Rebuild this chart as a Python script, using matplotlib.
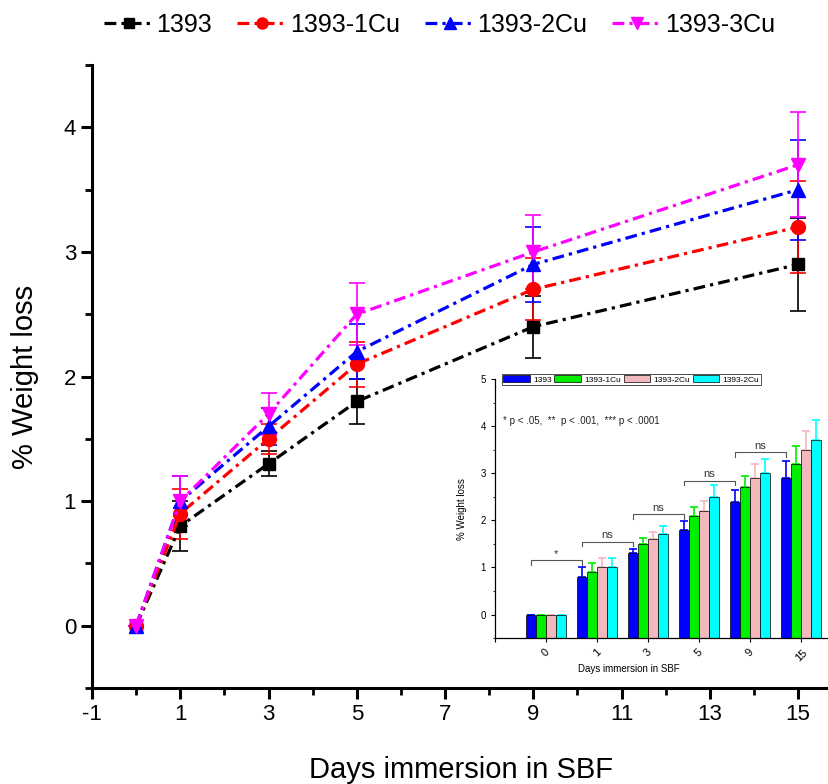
import matplotlib
matplotlib.use("Agg")
import matplotlib.pyplot as plt
from matplotlib.ticker import MultipleLocator
import numpy as np

plt.rcParams['font.family'] = ['Liberation Sans', 'DejaVu Sans']

# ---- data ----
days = [0, 1, 3, 5, 9, 15]
day_labels = ["0", "1", "3", "5", "9", "15"]
series_names = ["1393", "1393-1Cu", "1393-2Cu", "1393-3Cu"]
inset_names = ["1393", "1393-1Cu", "1393-2Cu", "1393-2Cu"]
w_1393 = [0, 0.8, 1.3, 1.8, 2.4, 2.9]
w_1cu = [0, 0.9, 1.5, 2.1, 2.7, 3.2]
w_2cu = [0, 1.0, 1.6, 2.2, 2.9, 3.5]
w_3cu = [0, 1.0, 1.7, 2.5, 3.0, 3.7]
e_1393 = [0, 0.2, 0.1, 0.18, 0.25, 0.37]
e_1cu = [0, 0.2, 0.12, 0.18, 0.25, 0.37]
e_2cu = [0, 0.2, 0.15, 0.22, 0.3, 0.4]
e_3cu = [0, 0.2, 0.17, 0.25, 0.3, 0.42]
sig_labels = ["*", "ns", "ns", "ns", "ns"]
sig_heights = [1.15, 1.55, 2.13, 2.84, 3.45]
xticks_main = [-1, 1, 3, 5, 7, 9, 11, 13, 15]
yticks_main = [0, 1, 2, 3, 4]
yticks_inset = [0, 1, 2, 3, 4, 5]

values = [w_1393, w_1cu, w_2cu, w_3cu]
errors = [e_1393, e_1cu, e_2cu, e_3cu]
line_colors = ["black", "red", "blue", "magenta"]
markers = ["s", "o", "^", "v"]
msizes = [9, 10, 10, 10]
bar_colors = ["#0000ff", "#00ee00", "#f2b8be", "#00ffff"]
dash_style = (0, (3.7, 1.6, 1.0, 1.6))

fig = plt.figure(figsize=(8.29, 7.84), dpi=100)
ax = fig.add_axes([0.111, 0.1224, 0.889, 0.7946])

handles = []
for v, e, c, m, ms, name in zip(values, errors, line_colors, markers, msizes, series_names):
    ax.errorbar(days, v, yerr=e, fmt='none', ecolor=c, elinewidth=1.2, capsize=6, capthick=1.2, zorder=2)
    h, = ax.plot(days, v, linestyle=dash_style, color=c, lw=2.3, marker=m, ms=ms,
                 markerfacecolor=c, markeredgecolor=c, label=name, zorder=3)
    handles.append(h)

ax.set_xlim(-1, 15.7)
ax.set_ylim(-0.5, 4.5)
ax.set_xticks(xticks_main)
ax.set_xticklabels([str(t) for t in xticks_main])
ax.set_yticks(yticks_main)
ax.xaxis.set_minor_locator(MultipleLocator(1))
ax.yaxis.set_minor_locator(MultipleLocator(0.5))
for s in ['top', 'right']:
    ax.spines[s].set_visible(False)
for s in ['left', 'bottom']:
    ax.spines[s].set_linewidth(2.2)
ax.tick_params(axis='both', which='major', direction='out', length=8, width=2.2, labelsize=16)
ax.tick_params(axis='both', which='minor', direction='out', length=5, width=2.0)
ax.set_xlabel("Days immersion in SBF", fontsize=21, labelpad=22)
ax.set_ylabel("% Weight loss", fontsize=21, labelpad=18)

fig.legend(handles=handles, loc='center', bbox_to_anchor=(0.53, 0.968), ncol=4, frameon=False,
           fontsize=18, handlelength=2.0, handletextpad=0.1, columnspacing=1.0, markerscale=0.8)

# ---- inset ----
ax2 = fig.add_axes([0.597, 0.186, 0.403, 0.3306])
x = np.arange(len(days))
bw = 0.2
offsets = [-0.3, -0.1, 0.1, 0.3]
base = -0.5
bar_handles = []
for v, e, c, off, name in zip(values, errors, bar_colors, offsets, inset_names):
    heights = np.array(v) - base
    b = ax2.bar(x + off, heights, bottom=base, width=bw, color=c, edgecolor='black', linewidth=0.5,
                label=name, zorder=2)
    bar_handles.append(b)
    ax2.errorbar(x + off, v, yerr=[np.zeros(len(e)), e], fmt='none', ecolor=c, elinewidth=1.2,
                 capsize=3, capthick=1.2, zorder=1)

for i, (lab, hgt) in enumerate(zip(sig_labels, sig_heights)):
    x0 = i - 0.3
    x1 = i + 1 - 0.3
    ax2.plot([x0, x0, x1, x1], [hgt - 0.1, hgt, hgt, hgt - 0.1], color='#555555', lw=0.8)
    ax2.text((x0 + x1) / 2, hgt + 0.03, lab, ha='center', va='bottom', fontsize=8, color='#333333')

ax2.text(-0.85, 4.1, "* p < .05,  **  p < .001,  *** p < .0001", fontsize=7, va='center', color='#222222')

ax2.set_xlim(-1, 5.55)
ax2.set_ylim(-0.5, 5)
ax2.set_xticks(list(range(-1, len(days))))
ax2.set_xticklabels([""] + day_labels, rotation=45, fontsize=7.5)
ax2.set_yticks(yticks_inset)
ax2.yaxis.set_minor_locator(MultipleLocator(0.5))
ax2.tick_params(axis='both', which='major', direction='out', length=3, width=0.8, labelsize=7)
ax2.tick_params(axis='x', labelsize=8)
ax2.tick_params(axis='y', which='minor', direction='out', length=1.5, width=0.6)
for s in ['top', 'right']:
    ax2.spines[s].set_visible(False)
for s in ['left', 'bottom']:
    ax2.spines[s].set_linewidth(0.9)
ax2.set_xlabel("Days immersion in SBF", fontsize=7, labelpad=1)
ax2.xaxis.set_label_coords(0.4, -0.1)
ax2.set_ylabel("% Weight loss", fontsize=7, labelpad=10)
leg = ax2.legend(handles=bar_handles, loc='upper left', bbox_to_anchor=(0.02, 1.02), ncol=4,
                 fontsize=6, frameon=True, fancybox=False, edgecolor='black', handlelength=3.2,
                 handleheight=0.9, handletextpad=0.4, columnspacing=0.3, borderpad=0.2, borderaxespad=0)
leg.get_frame().set_linewidth(0.6)

fig.savefig("out.png", dpi=100)
